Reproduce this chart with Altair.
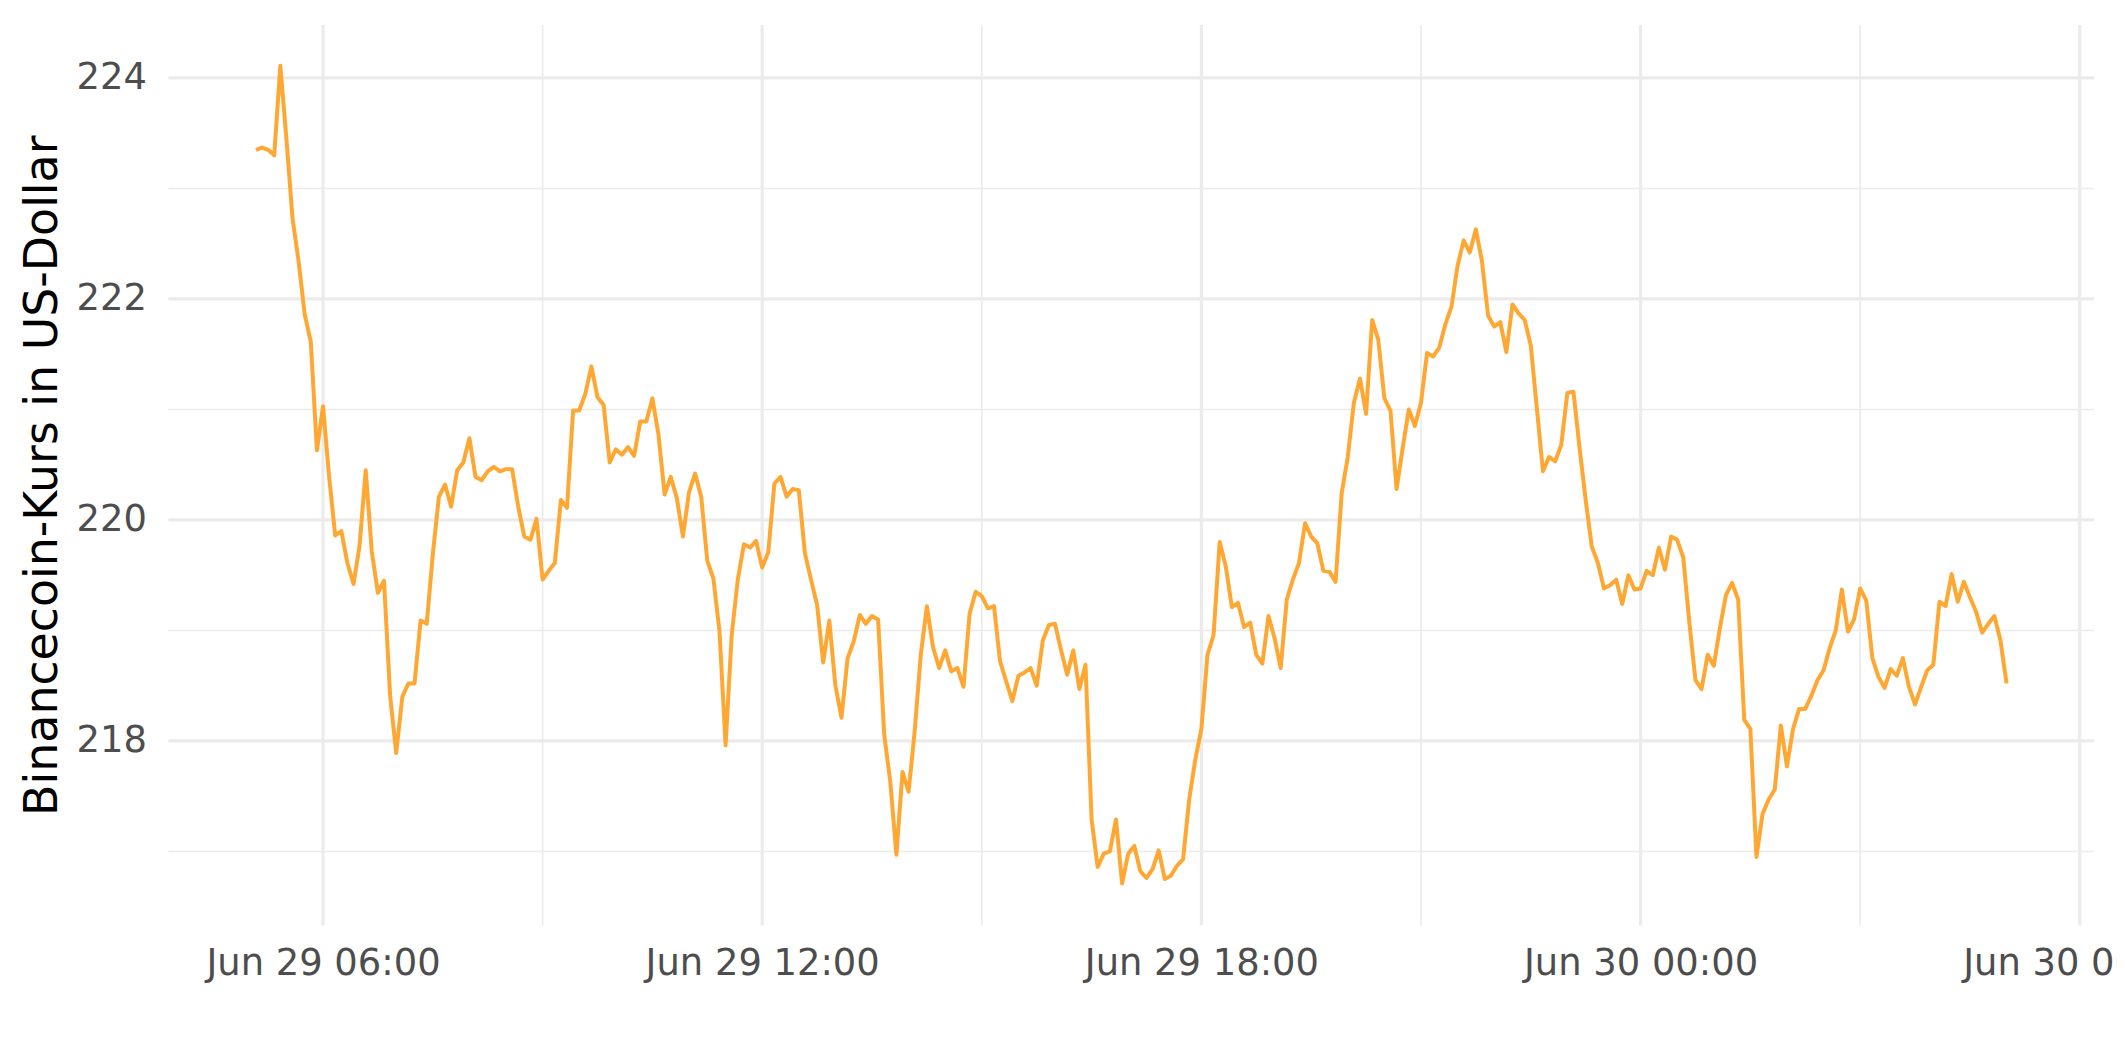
import altair as alt
import pandas as pd

# Binancecoin price (USD), 5-minute steps, Jun 29 05:05 -> Jun 30 05:00
price = [
    223.35, 223.37, 223.35, 223.30, 224.11, 223.45, 222.73, 222.34, 221.86, 221.61,
    220.63, 221.03, 220.39, 219.86, 219.90, 219.61, 219.42, 219.77, 220.45, 219.71,
    219.34, 219.45, 218.41, 217.89, 218.40, 218.52, 218.52, 219.09, 219.06, 219.69,
    220.21, 220.32, 220.12, 220.45, 220.52, 220.74, 220.39, 220.36, 220.44, 220.48,
    220.44, 220.46, 220.46, 220.12, 219.85, 219.82, 220.01, 219.46, 219.54, 219.61,
    220.18, 220.11, 220.99, 220.99, 221.14, 221.39, 221.11, 221.04, 220.52, 220.64,
    220.59, 220.66, 220.58, 220.89, 220.89, 221.10, 220.77, 220.23, 220.39, 220.20,
    219.85, 220.25, 220.42, 220.21, 219.63, 219.47, 218.99, 217.96, 218.96, 219.46,
    219.78, 219.75, 219.81, 219.57, 219.71, 220.33, 220.39, 220.21, 220.28, 220.27,
    219.70, 219.46, 219.23, 218.71, 219.09, 218.50, 218.21, 218.75, 218.90, 219.14,
    219.06, 219.13, 219.10,
    218.06, 217.63, 216.97, 217.72, 217.54, 218.09, 218.78, 219.22, 218.85, 218.66,
    218.82, 218.63, 218.66, 218.49, 219.15, 219.35, 219.31, 219.20, 219.22, 218.72,
    218.54, 218.36, 218.59, 218.62, 218.66, 218.50, 218.91, 219.05, 219.06, 218.82,
    218.60, 218.82, 218.47, 218.69, 217.29, 216.86, 216.98, 217.00, 217.29, 216.71,
    216.98, 217.05, 216.82, 216.76, 216.84, 217.01, 216.75, 216.78, 216.87, 216.93,
    217.47, 217.83, 218.11, 218.78, 218.96, 219.80, 219.58, 219.21, 219.25, 219.03,
    219.07, 218.78, 218.70, 219.13, 218.93, 218.66, 219.28, 219.46, 219.61, 219.97,
    219.85, 219.79, 219.54, 219.53, 219.44, 220.24, 220.57, 221.06, 221.28, 220.96,
    221.81, 221.63, 221.10, 220.99, 220.28, 220.65, 221.00, 220.85, 221.06, 221.51,
    221.48, 221.56, 221.77, 221.93, 222.30, 222.53, 222.42, 222.63, 222.34, 221.85,
    221.75,
    221.79, 221.52, 221.95, 221.87, 221.81, 221.58, 221.01, 220.44, 220.57, 220.53,
    220.68, 221.15, 221.16, 220.65, 220.18, 219.76, 219.61, 219.38, 219.41, 219.46,
    219.24, 219.50, 219.37, 219.38, 219.54, 219.50, 219.75, 219.55, 219.85, 219.82,
    219.66, 219.07, 218.55, 218.47, 218.78, 218.68, 219.02, 219.32, 219.43, 219.28,
    218.19, 218.11, 216.95, 217.34, 217.47, 217.56, 218.14,
    217.77, 218.11, 218.29, 218.29, 218.41, 218.55, 218.64, 218.84, 219.00, 219.37,
    218.99, 219.10, 219.38, 219.27, 218.75, 218.58, 218.48, 218.65, 218.59, 218.75,
    218.49, 218.33, 218.49, 218.64, 218.69, 219.26, 219.22, 219.51, 219.26, 219.44,
    219.30, 219.17, 218.98, 219.06, 219.13, 218.91, 218.52,
]
start_time = "2023-06-29 05:05"

y_major = [218, 220, 222, 224]
y_minor = [217, 219, 221, 223]
x_major = ["2023-06-29T06:00:00", "2023-06-29T12:00:00", "2023-06-29T18:00:00",
           "2023-06-30T00:00:00", "2023-06-30T06:00:00"]
x_minor = ["2023-06-29T09:00:00", "2023-06-29T15:00:00", "2023-06-29T21:00:00",
           "2023-06-30T03:00:00"]
y_title = "Binancecoin-Kurs in US-Dollar"

times = pd.date_range(start_time, periods=len(price), freq="5min")
df = pd.DataFrame({"time": times.strftime("%Y-%m-%dT%H:%M:%S"), "price": price})

xscale = alt.Scale(domain=[alt.DateTime(year=2023, month=6, date=29, hours=3, minutes=53, seconds=15),
                           alt.DateTime(year=2023, month=6, date=30, hours=6, minutes=11, seconds=45)])
yscale = alt.Scale(domain=[216.33, 224.48], nice=False, zero=False)

tick_vals = [alt.DateTime(year=2023, month=6, date=29, hours=6),
             alt.DateTime(year=2023, month=6, date=29, hours=12),
             alt.DateTime(year=2023, month=6, date=29, hours=18),
             alt.DateTime(year=2023, month=6, date=30, hours=0),
             alt.DateTime(year=2023, month=6, date=30, hours=6)]

xaxis = alt.Axis(values=tick_vals, format="%b %d %H:%M", title=None, labelFlush=False,
                 labelOverlap=False, labelBound=False, labelPadding=20, labelBaseline="top",
                 labelLimit=1000)
yaxis = alt.Axis(values=y_major, title=y_title, labelPadding=22, labelBaseline="middle",
                 titleAngle=270, titleX=-112, titleY=452, titleAlign="center",
                 titleBaseline="alphabetic", labelLimit=1000, titleLimit=2000)

grid_col = "#EBEBEB"

g_ymin = alt.Chart(pd.DataFrame({"v": y_minor})).mark_rule(color=grid_col, strokeWidth=1.6).encode(
    y=alt.Y("v:Q", scale=yscale, axis=yaxis))
g_ymaj = alt.Chart(pd.DataFrame({"v": y_major})).mark_rule(color=grid_col, strokeWidth=3.2).encode(
    y=alt.Y("v:Q", scale=yscale, axis=yaxis))
g_xmin = alt.Chart(pd.DataFrame({"t": x_minor})).mark_rule(color=grid_col, strokeWidth=1.6).encode(
    x=alt.X("t:T", scale=xscale, axis=xaxis))
g_xmaj = alt.Chart(pd.DataFrame({"t": x_major})).mark_rule(color=grid_col, strokeWidth=3.2).encode(
    x=alt.X("t:T", scale=xscale, axis=xaxis))

line = alt.Chart(df).mark_line(color="#FFA733", strokeWidth=4, strokeJoin="round").encode(
    x=alt.X("time:T", scale=xscale, axis=xaxis),
    y=alt.Y("price:Q", scale=yscale, axis=yaxis),
)

chart = alt.layer(g_ymin, g_xmin, g_ymaj, g_xmaj, line).properties(
    width=1933, height=904,
    padding={"left": 161, "top": 15, "right": 23, "bottom": 121},
    autosize=alt.AutoSizeParams(type="none"),
    background="white",
).configure_view(stroke=None).configure_axis(
    domain=False, ticks=False, tickSize=0, grid=False,
    labelFont="DejaVu Sans", labelFontSize=37, labelColor="#4D4D4D",
    titleFont="DejaVu Sans", titleFontSize=46, titleColor="#000000", titleFontWeight="normal",
)

chart.save("out.html", embed_options={"renderer": "svg", "actions": False})
